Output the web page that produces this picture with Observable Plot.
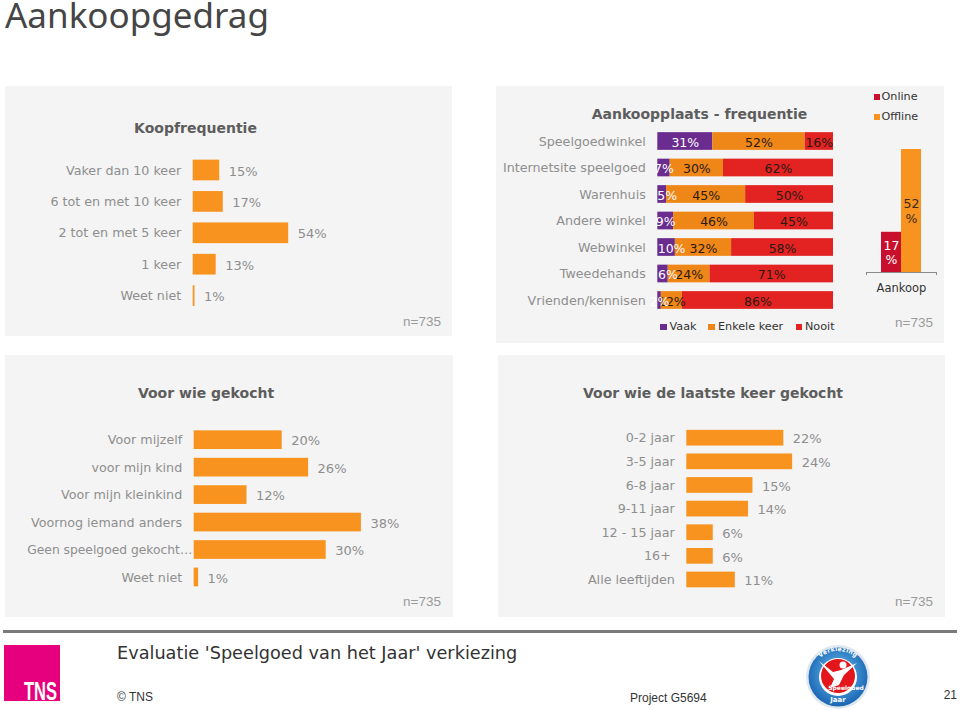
<!DOCTYPE html>
<html lang="nl">
<head>
<meta charset="utf-8">
<title>Aankoopgedrag</title>
<script src="https://cdn.jsdelivr.net/npm/d3@7"></script>
<script src="https://cdn.jsdelivr.net/npm/@observablehq/plot@0.6"></script>
<style>
  html, body { margin: 0; padding: 0; background: #fff; }
  #page { position: relative; width: 960px; height: 710px; overflow: hidden; font-family: "DejaVu Sans", sans-serif; }
  .panel { position: absolute; background: #f4f4f4; }
  .chart { position: absolute; }
  .chart svg { display: block; background: transparent; overflow: visible; }
  .txt { position: absolute; white-space: pre; line-height: 1; }
  .sw { position: absolute; }
</style>
</head>
<body>
<div id="page"></div>
<script>
// ---------- data ----------
const koopCats = ["Vaker dan 10 keer", "6 tot en met 10 keer", "2 tot en met 5 keer", "1 keer", "Weet niet"];
const koopVals = [15, 17, 54, 13, 1];

const plaatsCats = ["Speelgoedwinkel", "Internetsite speelgoed", "Warenhuis", "Andere winkel", "Webwinkel", "Tweedehands", "Vrienden/kennisen"];
const vaakVals = [31, 7, 5, 9, 10, 6, 2];
const enkeleVals = [52, 30, 45, 46, 32, 24, 12];
const nooitVals = [16, 62, 50, 45, 58, 71, 86];
const freqSeries = ["Vaak", "Enkele keer", "Nooit"];
const shiftedLabelCats = ["Warenhuis", "Webwinkel", "Tweedehands"];

const aankoopSeries = ["Online", "Offline"];
const aankoopVals = [17, 52];

const wieCats = ["Voor mijzelf", "voor mijn kind", "Voor mijn kleinkind", "Voornog iemand anders", "Geen speelgoed gekocht…", "Weet niet"];
const wieVals = [20, 26, 12, 38, 30, 1];
const wieTightCats = ["Geen speelgoed gekocht…"];

const laatsteCats = ["0-2 jaar", "3-5 jaar", "6-8 jaar", "9-11 jaar", "12 - 15 jaar", "16+\u00a0", "Alle leeftijden"];
const laatsteVals = [22, 24, 15, 14, 6, 6, 11];

// ---------- styling ----------
const FONT = '"DejaVu Sans", sans-serif';
const ARIAL = '"Liberation Sans", sans-serif';
const ORANGE = "#f7931e", ORANGE2 = "#ef8618", PURPLE = "#6a2d8f", RED = "#e32322", DARKRED = "#c8102e";
const GREY = "#8e8e8e", TITLE = "#5d5d5d", DARK = "#333";
const page = document.getElementById("page");

function box(x0, y0, x1, y1) {
  const d = document.createElement("div");
  d.className = "panel";
  d.style.cssText = `left:${x0}px;top:${y0}px;width:${x1 - x0}px;height:${y1 - y0}px`;
  page.appendChild(d);
}
function txt(s, x, y, o = {}) {
  const d = document.createElement("div");
  d.className = "txt";
  d.textContent = s;
  const tx = o.anchor === "middle" ? "-50%" : o.anchor === "end" ? "-100%" : "0";
  d.style.cssText = `left:${x}px;top:${y}px;transform:translate(${tx},-50%);font-size:${o.size || 13}px;color:${o.color || GREY};font-weight:${o.weight || 400};font-family:${o.font || FONT};${o.extra || ""}`;
  page.appendChild(d);
  return d;
}
function swatch(x, y, c, s = 6.5) {
  const d = document.createElement("div");
  d.className = "sw";
  d.style.cssText = `left:${x}px;top:${y - s / 2}px;width:${s}px;height:${s}px;background:${c}`;
  page.appendChild(d);
}
function place(svg, left, top) {
  const d = document.createElement("div");
  d.className = "chart";
  d.style.cssText = `left:${left}px;top:${top}px`;
  d.appendChild(svg);
  page.appendChild(d);
}

// horizontal single-series bar panel
function barPanel(cats, vals, r) {
  const data = cats.map((c, i) => ({c, v: vals[i]}));
  const w = r.x1 - r.x0, h = r.y1 - r.y0;
  const pad = 1 - r.barH / r.step;
  const ml = r.base - r.x0;
  const tight = r.tight || [];
  const axes = [Plot.axisY({ticks: cats.filter(c => !tight.includes(c)), anchor: "left", tickSize: 0, tickPadding: 12, color: GREY, label: null, fontSize: 12.7})];
  if (tight.length) axes.push(Plot.axisY({ticks: tight, anchor: "left", tickSize: 0, tickPadding: 2, color: GREY, label: null, fontSize: 12.3}));
  const svg = Plot.plot({
    width: w, height: h, marginLeft: ml, marginRight: 0, marginTop: 0, marginBottom: 0,
    style: {fontFamily: FONT, fontSize: "13px", background: "transparent"},
    x: {domain: [0, (w - ml) / r.perPct], axis: null},
    y: {type: "band", domain: cats, round: false, paddingInner: pad, paddingOuter: pad / 2, align: 0.5,
        range: [r.first - r.step / 2 - r.y0, r.first - r.y0 + (cats.length - 0.5) * r.step]},
    marks: [
      ...axes,
      Plot.barX(data, {x: "v", y: "c", fill: ORANGE}),
      Plot.text(data, {x: "v", y: "c", text: d => d.v + "%", textAnchor: "start", dx: 9, dy: 1, fill: GREY})
    ]
  });
  place(svg, r.x0, r.y0);
}

// ---------- headline ----------
txt("Aankoopgedrag", 5, 14, {size: 35, color: "#454545", font: '"Noto Sans", sans-serif'});

// ---------- panel backgrounds ----------
box(5, 86, 452, 336);
box(496, 86, 944, 343);
box(5, 354.5, 453, 617);
box(497.5, 354.5, 945, 617);

// ---------- Koopfrequentie ----------
txt("Koopfrequentie", 195.5, 127.5, {anchor: "middle", size: 14, weight: 700, color: TITLE});
barPanel(koopCats, koopVals, {x0: 5, y0: 150, x1: 452, y1: 315, base: 192.7, perPct: 1.768, first: 170, step: 31.4, barH: 20.7});
txt("n=735", 441, 322, {anchor: "end", size: 13.5, color: "#9a9a9a", font: ARIAL});

// ---------- Aankoopplaats ----------
txt("Aankoopplaats - frequentie", 699.5, 114, {anchor: "middle", size: 14, weight: 700, color: TITLE});
{
  const long = plaatsCats.flatMap((c, i) => {
    const parts = [vaakVals[i], enkeleVals[i], nooitVals[i]];
    const total = d3.sum(parts);
    return parts.map((v, j) => ({c, s: freqSeries[j], v, mid: (d3.sum(parts.slice(0, j)) + v / 2) / total}));
  });
  const x0 = 496, y0 = 126, w = 448, step = 26.5, barH = 17.7, first = 141, base = 657.3, full = 175.7;
  const pad = 1 - barH / step;
  const ml = base - x0;
  const valueLabel = d => d.v + "%";
  const svg = Plot.plot({
    width: w, height: 188, marginLeft: ml, marginRight: w - ml - full, marginTop: 0, marginBottom: 0,
    style: {fontFamily: FONT, fontSize: "12.5px", background: "transparent"},
    x: {domain: [0, 1], axis: null},
    y: {type: "band", domain: plaatsCats, round: false, paddingInner: pad, paddingOuter: pad / 2, align: 0.5,
        range: [first - step / 2 - y0, first - y0 + (plaatsCats.length - 0.5) * step]},
    color: {domain: freqSeries, range: [PURPLE, ORANGE2, RED]},
    marks: [
      Plot.axisY({anchor: "left", tickSize: 0, tickPadding: 12, color: GREY, label: null, fontSize: 12.7}),
      Plot.barX(long, Plot.stackX({x: "v", y: "c", z: "s", offset: "normalize", fill: "s"})),
      Plot.text(long, {filter: d => d.s !== "Vaak", x: "mid", y: "c", text: valueLabel, dy: 1, fill: "#2a1a12"}),
      Plot.text(long, {filter: d => d.s === "Vaak" && !shiftedLabelCats.includes(d.c), x: "mid", y: "c", text: valueLabel, dy: 1, fill: "#fff"}),
      Plot.text(long, {filter: d => d.s === "Vaak" && shiftedLabelCats.includes(d.c), x: "mid", y: "c", text: valueLabel, dy: 1, dx: 5, fill: "#fff"})
    ]
  });
  place(svg, x0, y0);
}
// freq legend
swatch(660, 327, PURPLE);
txt("Vaak", 669.5, 327, {size: 11.2, color: DARK});
swatch(708, 327, ORANGE2);
txt("Enkele keer", 718, 327, {size: 11.2, color: DARK});
swatch(795.5, 327, RED);
txt("Nooit", 805, 327, {size: 11.2, color: DARK});

// ---------- Aankoop mini chart ----------
{
  const data = aankoopSeries.map((s, i) => ({s, i, v: aankoopVals[i]}));
  const svg = Plot.plot({
    width: 70, height: 160, marginLeft: 0, marginRight: 0, marginTop: 0, marginBottom: 24,
    style: {fontFamily: FONT, fontSize: "11.5px", background: "transparent", overflow: "visible"},
    x: {domain: [-0.75, 2.75], axis: null},
    y: {domain: [0, 57.5], axis: null},
    marks: [
      Plot.rectY(data, {x1: d => d.i, x2: d => d.i + 1, y1: 0, y2: "v", fill: d => d.s === "Online" ? DARKRED : ORANGE}),
      Plot.ruleY([0], {stroke: "#8a8a8a"}),
      Plot.axisX({ticks: [-0.75, 2.75], tickFormat: () => "", tickSize: 3, stroke: "#8a8a8a", label: null}),
      Plot.axisX({ticks: [1], tickFormat: () => "Aankoop", tickSize: 0, tickPadding: 11, color: DARK, label: null}),
      Plot.text(data, {x: d => d.i + 0.5, y: d => d.v / 2, text: d => d.v + "\n%", lineHeight: 1.15, fontSize: 12.5,
        fill: d => d.s === "Online" ? "#fff" : "#3a2a10"})
    ]
  });
  place(svg, 866, 136);
}
swatch(873.5, 97, DARKRED);
txt("Online", 881.5, 97, {size: 11.2, color: DARK});
swatch(873.5, 117, ORANGE);
txt("Offline", 881.5, 117, {size: 11.2, color: DARK});
txt("n=735", 933, 323, {anchor: "end", size: 13.5, color: "#9a9a9a", font: ARIAL});

// ---------- Voor wie gekocht ----------
txt("Voor wie gekocht", 206, 393, {anchor: "middle", size: 14, weight: 700, color: TITLE});
barPanel(wieCats, wieVals, {x0: 5, y0: 420, x1: 453, y1: 595, base: 193.7, perPct: 4.4, first: 439.7, step: 27.45, barH: 18.7, tight: wieTightCats});
txt("n=735", 441, 602, {anchor: "end", size: 13.5, color: "#9a9a9a", font: ARIAL});

// ---------- Voor wie de laatste keer gekocht ----------
txt("Voor wie de laatste keer gekocht", 713, 393, {anchor: "middle", size: 14, weight: 700, color: TITLE});
barPanel(laatsteCats, laatsteVals, {x0: 497.5, y0: 420, x1: 945, y1: 595, base: 685.8, perPct: 4.41, first: 437.7, step: 23.63, barH: 15.7});
txt("n=735", 933, 602, {anchor: "end", size: 13.5, color: "#9a9a9a", font: ARIAL});

// ---------- footer ----------
{
  const rule = document.createElement("div");
  rule.style.cssText = "position:absolute;left:3px;width:954px;top:630px;height:2.5px;background:#7a7a7a";
  page.appendChild(rule);
  const logo = document.createElement("div");
  logo.style.cssText = "position:absolute;left:4px;top:645px;width:56px;height:56px;background:#e6007e";
  page.appendChild(logo);
  const tns = txt("TNS", 57, 690.5, {size: 25, color: "#fff", font: ARIAL, weight: 700});
  tns.style.transform = "translate(-100%,-50%) scaleX(.66)";
  tns.style.transformOrigin = "100% 50%";
  txt("Evaluatie 'Speelgoed van het Jaar' verkiezing", 117, 654, {size: 17.7, color: "#333"});
  txt("© TNS", 117, 697, {size: 12, color: "#333", font: ARIAL});
  txt("Project G5694", 630, 698, {size: 12, color: "#333", font: ARIAL});
  txt("21", 957, 695, {anchor: "end", size: 12, color: "#333", font: ARIAL});
  const badge = document.createElement("div");
  badge.style.cssText = "position:absolute;left:803px;top:641px;width:70px;height:70px";
  badge.innerHTML = `<svg width="70" height="70" viewBox="0 0 70 70">
    <defs><radialGradient id="bg" cx="50%" cy="45%" r="55%"><stop offset="0" stop-color="#6cc0ee"/><stop offset="1" stop-color="#1a66b4"/></radialGradient>
    <path id="arc" d="M9 36 A26 26 0 0 1 61 36"/></defs>
    <circle cx="35" cy="36" r="32" fill="#dfe8ef"/>
    <circle cx="35" cy="36" r="29.5" fill="url(#bg)"/>
    <circle cx="35" cy="36" r="19" fill="#fff"/>
    <circle cx="35" cy="35" r="17" fill="#e2161b"/>
    <path d="M16 20 L30 31 L38 29 L54 22 L41 34 L36 44 L27 47 L31 38 Z" fill="#fff"/>
    <circle cx="40" cy="24" r="3.5" fill="#fff"/>
    <text font-size="6" font-weight="700" fill="#fff" font-family="DejaVu Sans" letter-spacing=".3"><textPath href="#arc" startOffset="50%" text-anchor="middle">Verkiezing</textPath></text>
    <text x="43" y="49" font-size="6" font-weight="700" fill="#fff" text-anchor="middle" font-family="DejaVu Sans">Speelgoed</text>
    <text x="35" y="61" font-size="7" font-weight="700" fill="#fff" text-anchor="middle" font-family="DejaVu Sans">Jaar</text>
  </svg>`;
  page.appendChild(badge);
}
</script>
</body>
</html>
